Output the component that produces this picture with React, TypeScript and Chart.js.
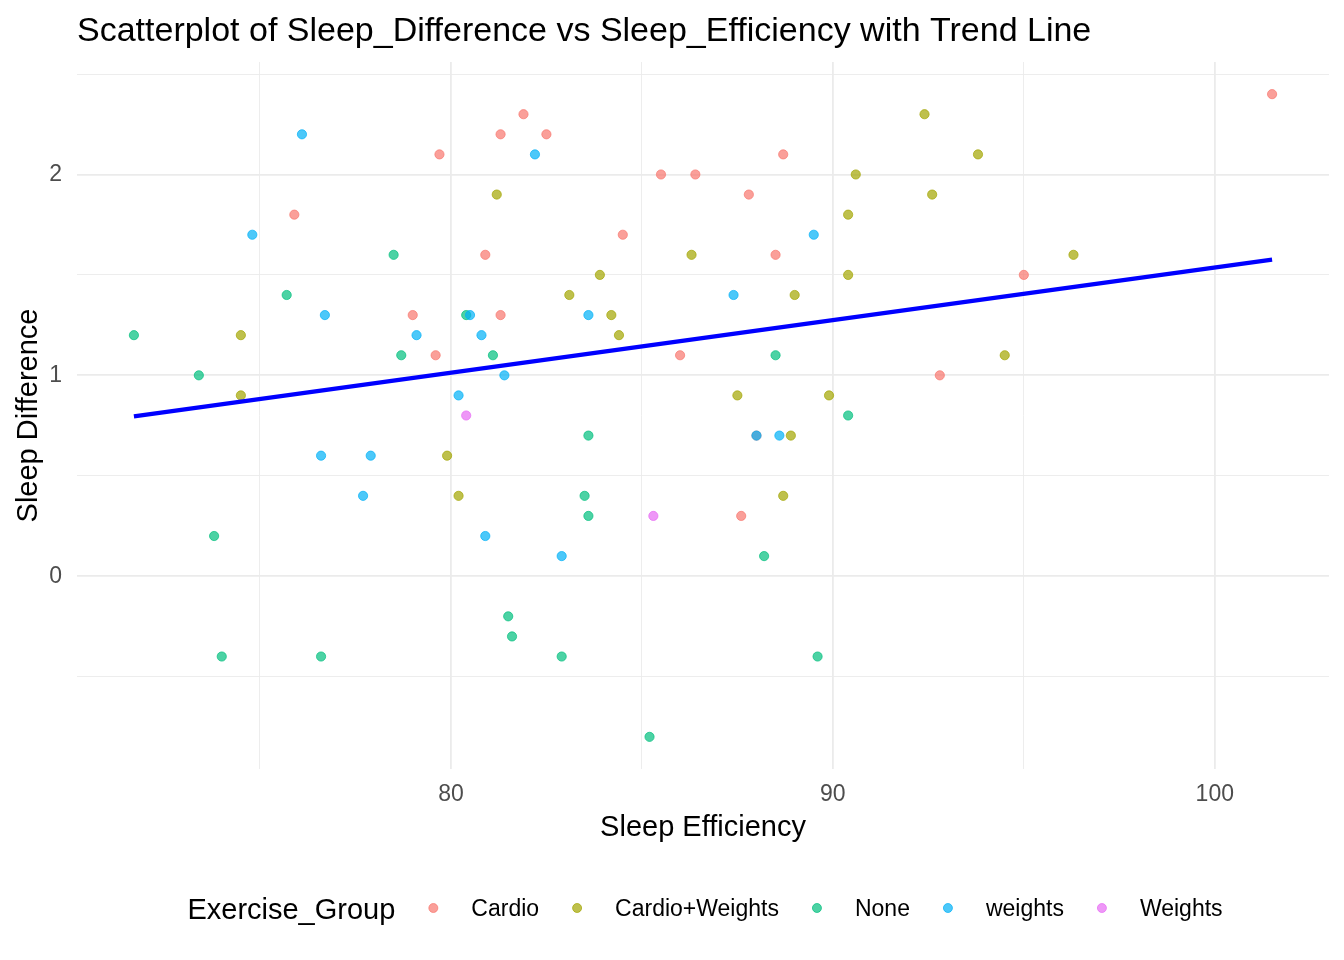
import React, { useEffect, useRef } from "react";
import { Chart, registerables } from "chart.js";

Chart.register(...registerables);

// ---------- data ----------
const groups = ["Cardio", "Cardio+Weights", "None", "weights", "Weights"];
const groupColors = ["#F8766D", "#A3A500", "#00BF7D", "#00B0F6", "#E76BF3"];

const cardioX = [101.5, 81.9, 81.3, 82.5, 79.7, 88.7, 85.5, 86.4, 75.9, 87.8, 84.5, 80.9, 88.5, 95.0, 79.0, 81.3, 79.6, 86.0, 92.8, 87.6, 88.0];
const cardioY = [2.4, 2.3, 2.2, 2.2, 2.1, 2.1, 2.0, 2.0, 1.8, 1.9, 1.7, 1.6, 1.6, 1.5, 1.3, 1.3, 1.1, 1.1, 1.0, 0.3, 0.7];

const cardioWeightsX = [81.2, 86.3, 83.9, 83.1, 84.2, 92.4, 93.8, 90.6, 92.6, 90.4, 90.4, 89.0, 96.3, 74.5, 74.5, 84.4, 79.9, 80.2, 94.5, 87.5, 89.9, 88.9, 88.7];
const cardioWeightsY = [1.9, 1.6, 1.5, 1.4, 1.3, 2.3, 2.1, 2.0, 1.9, 1.8, 1.5, 1.4, 1.6, 1.2, 0.9, 1.2, 0.6, 0.4, 1.1, 0.9, 0.9, 0.7, 0.4];

const noneX = [78.5, 75.7, 71.7, 73.4, 73.8, 78.7, 80.4, 81.1, 83.6, 83.5, 83.6, 88.5, 90.4, 88.2, 74.0, 76.6, 81.5, 81.6, 82.9, 85.2, 89.6];
const noneY = [1.6, 1.4, 1.2, 1.0, 0.2, 1.1, 1.3, 1.1, 0.7, 0.4, 0.3, 1.1, 0.8, 0.1, -0.4, -0.4, -0.2, -0.3, -0.4, -0.8, -0.4];

const weightsLowerX = [76.1, 74.8, 76.7, 82.2, 80.5, 83.6, 89.5, 87.4, 76.6, 77.9, 77.7, 79.1, 80.8, 81.4, 80.2, 80.9, 82.9, 88.0, 88.6];
const weightsLowerY = [2.2, 1.7, 1.3, 2.1, 1.3, 1.3, 1.7, 1.4, 0.6, 0.6, 0.4, 1.2, 1.2, 1.0, 0.9, 0.2, 0.1, 0.7, 0.7];

const weightsUpperX = [80.4, 85.3];
const weightsUpperY = [0.8, 0.3];

const trendX = [71.7, 101.5];
const trendY = [0.796, 1.576];

const xTicks = [75, 80, 85, 90, 95, 100];
const xMajor = [80, 90, 100];
const yTicks = [-0.5, 0, 0.5, 1, 1.5, 2, 2.5];
const yMajor = [0, 1, 2];

const xRange = [70.21, 102.99];
const yRange = [-0.96, 2.56];

const titleText = "Scatterplot of Sleep_Difference vs Sleep_Efficiency with Trend Line";
const xTitle = "Sleep Efficiency";
const yTitle = "Sleep Difference";
const legendTitle = "Exercise_Group";

const groupXs = [cardioX, cardioWeightsX, noneX, weightsLowerX, weightsUpperX];
const groupYs = [cardioY, cardioWeightsY, noneY, weightsLowerY, weightsUpperY];
const drawOrder = [5, 4, 3, 2, 1];

const FONT = "'Liberation Sans', Arial, sans-serif";
const ALPHA = 0.7;

function rgba(hex: string, a: number) {
  const n = parseInt(hex.slice(1), 16);
  return `rgba(${(n >> 16) & 255},${(n >> 8) & 255},${n & 255},${a})`;
}

const legendPlugin = {
  id: "ggLegend",
  afterDraw(chart: any) {
    const ctx = chart.ctx as CanvasRenderingContext2D;
    const area = chart.chartArea;
    const cy = 910;
    const gap = 38;
    ctx.save();
    ctx.textBaseline = "middle";
    ctx.textAlign = "left";
    ctx.font = `29px ${FONT}`;
    const tW = ctx.measureText(legendTitle).width;
    ctx.font = `23px ${FONT}`;
    const lWs = groups.map((g) => ctx.measureText(g).width);
    const total = tW + lWs.reduce((s, w) => s + w + 2 * gap, 0);
    let x = (area.left + area.right) / 2 - total / 2 + 2;
    ctx.fillStyle = "#000000";
    ctx.font = `29px ${FONT}`;
    ctx.fillText(legendTitle, x, cy + 1);
    x += tW;
    groups.forEach((g, i) => {
      x += gap;
      ctx.beginPath();
      ctx.arc(x, cy - 2, 4.5, 0, Math.PI * 2);
      ctx.fillStyle = rgba(groupColors[i], ALPHA);
      ctx.strokeStyle = rgba(groupColors[i], ALPHA);
      ctx.lineWidth = 1;
      ctx.fill();
      ctx.stroke();
      x += gap;
      ctx.fillStyle = "#000000";
      ctx.font = `23px ${FONT}`;
      ctx.fillText(g, x, cy);
      x += lWs[i];
    });
    ctx.restore();
  },
};

export default function App() {
  const ref = useRef<HTMLCanvasElement | null>(null);

  useEffect(() => {
    if (!ref.current) return;
    const datasets: any[] = [
      {
        type: "line",
        label: "Trend",
        data: trendX.map((x, i) => ({ x, y: trendY[i] })),
        borderColor: "#0000FF",
        borderWidth: 4.3,
        pointRadius: 0,
        fill: false,
        showLine: true,
        order: 0,
      },
      ...groups.map((g, gi) => ({
        type: "scatter",
        label: g,
        data: groupXs[gi].map((x, i) => ({ x, y: groupYs[gi][i] })),
        backgroundColor: rgba(groupColors[gi], ALPHA),
        borderColor: rgba(groupColors[gi], ALPHA),
        borderWidth: 1,
        pointRadius: 4.6,
        pointHoverRadius: 4.6,
        order: drawOrder[gi],
      })),
    ];

    const chart = new Chart(ref.current, {
      type: "scatter",
      data: { datasets },
      plugins: [legendPlugin],
      options: {
        responsive: false,
        animation: false,
        devicePixelRatio: 1,
        events: [],
        layout: { padding: { top: 0, right: 15, bottom: 111, left: 0 } },
        plugins: {
          legend: { display: false },
          tooltip: { enabled: false },
          title: {
            display: true,
            text: titleText,
            align: "start",
            fullSize: false,
            color: "#000000",
            font: { family: FONT, size: 34, weight: "normal", lineHeight: 1 },
            padding: { top: 15, bottom: 13 },
          },
        },
        scales: {
          x: {
            type: "linear",
            min: xRange[0],
            max: xRange[1],
            afterBuildTicks: (scale: any) => {
              scale.ticks = xTicks.map((v) => ({ value: v }));
            },
            afterFit: (scale: any) => {
              scale.height = 80;
            },
            ticks: {
              padding: 12,
              color: "#4D4D4D",
              font: { family: FONT, size: 23 },
              maxRotation: 0,
              autoSkip: false,
              callback: (v: any) => (xMajor.includes(v) ? String(v) : ""),
            },
            grid: {
              color: "#EBEBEB",
              lineWidth: (c: any) => (c.tick && xMajor.includes(c.tick.value) ? 1.8 : 0.9),
              drawTicks: false,
            },
            border: { display: false },
            title: {
              display: true,
              text: xTitle,
              color: "#000000",
              font: { family: FONT, size: 29, lineHeight: 1 },
              padding: { top: 0, bottom: 7 },
            },
          },
          y: {
            type: "linear",
            min: yRange[0],
            max: yRange[1],
            afterBuildTicks: (scale: any) => {
              scale.ticks = yTicks.map((v) => ({ value: v }));
            },
            afterFit: (scale: any) => {
              scale.width = 77;
            },
            ticks: {
              padding: 15,
              color: "#4D4D4D",
              font: { family: FONT, size: 23 },
              autoSkip: false,
              callback: (v: any) => (yMajor.includes(v) ? String(v) : ""),
            },
            grid: {
              color: "#EBEBEB",
              lineWidth: (c: any) => (c.tick && yMajor.includes(c.tick.value) ? 1.8 : 0.9),
              drawTicks: false,
            },
            border: { display: false },
            title: {
              display: true,
              text: yTitle,
              color: "#000000",
              font: { family: FONT, size: 29, lineHeight: 1 },
              padding: { top: 14, bottom: 0 },
            },
          },
        },
      },
    } as any);
    return () => chart.destroy();
  }, []);

  return (
    <div style={{ position: "absolute", left: 0, top: 0, width: 1344, height: 960, background: "#FFFFFF" }}>
      <canvas ref={ref} width={1344} height={960} style={{ display: "block" }} />
    </div>
  );
}
